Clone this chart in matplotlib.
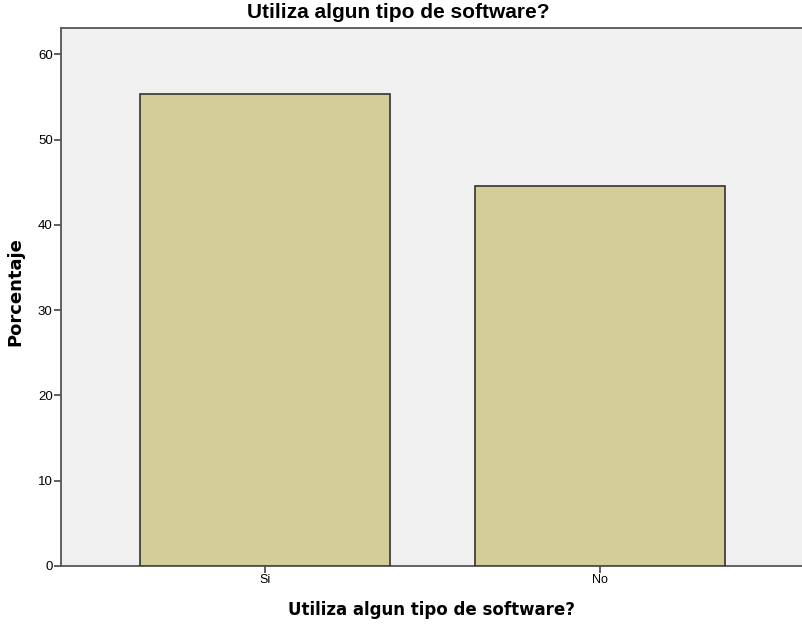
import matplotlib
matplotlib.use("Agg")
import matplotlib.pyplot as plt

categories = ["Si", "No"]
values = [55.4, 44.6]
yticks = [0, 10, 20, 30, 40, 50, 60]

plt.rcParams['font.family'] = ['Liberation Sans', 'DejaVu Sans']

fig = plt.figure(figsize=(8.03, 6.24), dpi=100)
W, H = 803, 624
ax = fig.add_axes([61 / W, (H - 566) / H, (W - 61) / W, (566 - 28) / H])
ax.set_facecolor("#F0F0F0")

x = list(range(len(categories)))
ax.bar(x, values, width=0.746, color="#D3CE97", edgecolor="#333333", linewidth=1.2, zorder=3)

ax.set_xlim(-0.609, 1.606)
ax.set_ylim(0, 63.1)
ax.set_xticks(x)
ax.set_xticklabels(categories, fontsize=9)
ax.set_yticks(yticks)
ax.set_yticklabels([str(t) for t in yticks], fontsize=9.5)
ax.tick_params(axis='both', direction='out', length=5, width=1.2, color="#444444", pad=1)

ax.spines["right"].set_visible(False)
for s in ["left", "bottom", "top"]:
    ax.spines[s].set_color("#555555")
    ax.spines[s].set_linewidth(1.3)

fig.text(398 / W, 1 - 12 / H, "Utiliza algun tipo de software?", fontsize=15,
         fontweight="bold", ha="center", va="center")
fig.text(432 / W, 1 - 610 / H, "Utiliza algun tipo de software?", fontsize=12,
         fontweight="bold", ha="center", va="center", family="DejaVu Sans")
fig.text(15 / W, 1 - 292 / H, "Porcentaje", fontsize=13, rotation=90,
         fontweight="bold", ha="center", va="center", family="DejaVu Sans")

fig.savefig("out.png", dpi=100)
